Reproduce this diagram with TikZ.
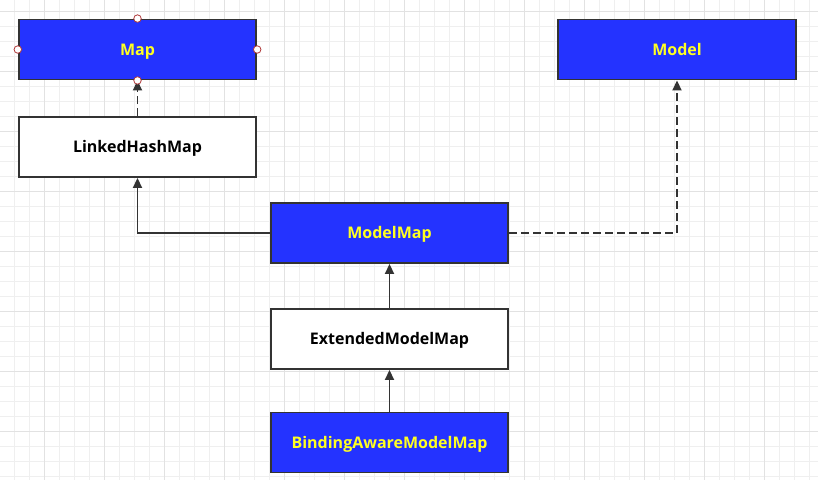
\documentclass[tikz,border=0pt]{standalone}
\usepackage{fontspec}
\setmainfont{Open Sans}
\usetikzlibrary{arrows.meta}
\definecolor{gridminor}{HTML}{EFEFEF}
\definecolor{gridmajor}{HTML}{E2E2E2}
\definecolor{boxblue}{HTML}{2433FF}
\definecolor{txtyellow}{HTML}{FFFF22}
\definecolor{edge}{HTML}{333333}
\definecolor{handle}{HTML}{B03A3A}
\tikzset{
  cls/.style={draw=edge, line width=1.9pt, minimum width=237.5pt, minimum height=60pt, inner sep=0pt, text height=11.4pt, text depth=0pt, font=\bfseries\fontsize{16}{18}\selectfont, text=black, fill=white},
  iface/.style={cls, fill=boxblue, text=txtyellow},
  link/.style={draw=edge, line width=1.8pt, -{Triangle[length=10pt,width=9pt]}},
  dashlink/.style={link, dash pattern=on 8pt off 4pt},
  hdl/.style={circle, draw=handle, fill=white, line width=0.8pt, minimum size=7.5pt, inner sep=0pt}
}
\begin{document}
\begin{tikzpicture}[x=1pt,y=1pt]
\useasboundingbox (0,0) rectangle (818,-480);
\fill[white] (0,0) rectangle (818,-480);
% grid
\foreach \i in {0,...,54} {\draw[gridminor, line width=1pt] ({14.5+15*\i},0) -- ({14.5+15*\i},-480);}
\foreach \i in {0,...,31} {\draw[gridminor, line width=1pt] (0,{-11-15*\i}) -- (818,{-11-15*\i});}
\foreach \i in {0,...,13} {\draw[gridmajor, line width=1pt] ({44.5+60*\i},0) -- ({44.5+60*\i},-480);}
\foreach \i in {0,...,7} {\draw[gridmajor, line width=1pt] (0,{-11-60*\i}) -- (818,{-11-60*\i});}
% nodes
\node[iface] (map) at (137.5,-49.5) {Map};
\node[iface] (model) at (677,-49.5) {Model};
\node[cls] (lhm) at (137.5,-147) {LinkedHashMap};
\node[iface] (mm) at (389.5,-233) {ModelMap};
\node[cls] (emm) at (389.5,-339) {ExtendedModelMap};
\node[iface] (bamm) at (389.5,-442.5) {BindingAwareModelMap};
% connectors
\draw[dashlink] (lhm.north) -- (map.south);
\draw[link] (mm.west) -| (lhm.south);
\draw[dashlink] (mm.east) -| (model.south);
\draw[link] (emm.north) -- (mm.south);
\draw[link] (bamm.north) -- (emm.south);
% selection handles
\node[hdl] (h1) at (map.north) {};
\node[hdl] (h2) at (map.west) {};
\node[hdl] (h3) at (map.east) {};
\node[hdl] (h4) at (map.south) {};
\end{tikzpicture}
\end{document}
